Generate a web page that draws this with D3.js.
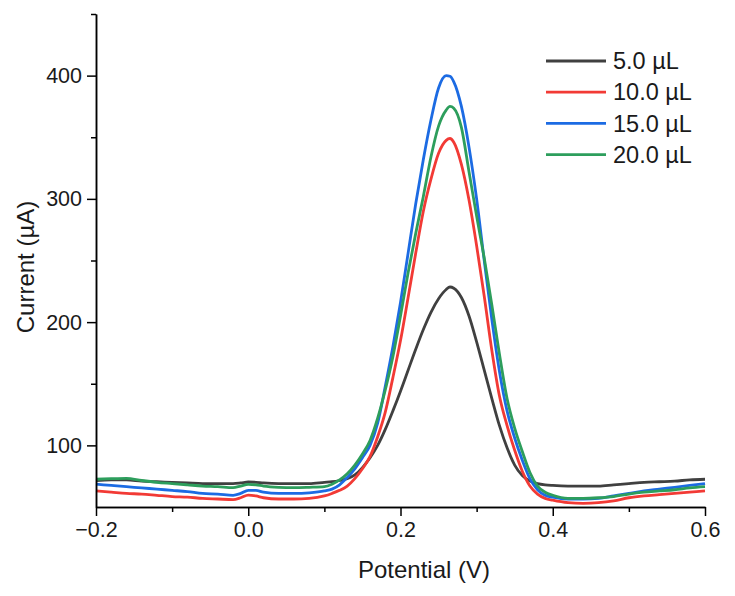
<html>
<head>
<meta charset="UTF-8">
<script src="https://d3js.org/d3.v7.min.js"></script>
<style>
  body { margin: 0; background: #fff; }
  text { font-family: Arial, "Liberation Sans", sans-serif; fill: #1a1a1a; }
  .axis .domain { stroke: #000; stroke-width: 1.5px; }
  .axis line { stroke: #000; stroke-width: 1.5px; }
</style>
</head>
<body>
<svg id="chart" width="735" height="596"></svg>
<script>
// potential (V) and current (uA)
const potential = [-0.20,-0.18,-0.16,-0.14,-0.12,-0.10,-0.08,-0.06,-0.04,-0.02,-0.01,0.00,0.01,
  0.02,0.04,0.06,0.08,0.10,0.11,0.12,0.13,0.14,0.15,0.16,0.17,0.18,0.19,0.20,0.21,0.22,0.23,0.24,
  0.25,0.26,0.265,0.27,0.28,0.29,0.30,0.31,0.32,0.33,0.34,0.35,0.36,0.37,0.38,0.39,0.40,
  0.42,0.44,0.46,0.48,0.50,0.52,0.54,0.56,0.58,0.60];

const current5 = [71.5,72,72,71,70.5,70,69.5,69,69,69,69.5,70.3,70,
  69.5,69,69,69,70,70.5,71.5,73,76,82,90,100,113,128,144,161,178,194,208,
  219,226.5,228.5,227.5,220,205,184,161,138,116,98,84,75.5,71,69,68,67.5,
  67,67,67,68,69,70,70.5,71,72,72.5];

const current10 = [63,62,61,60.5,59.5,58.5,58,57,56.5,56,57.5,59.7,59,
  57.5,56.5,56.5,57,59,61,63.5,67,73,81,91,107,127,155,185,220,256,290,316,
  337,347.5,349,346,328,299,262,221,177,140,116,96,79,67,60.5,57,55.5,
  53.5,53,53.5,55,57.5,59,60,61,62,63];

const current15 = [68.5,67.5,66.5,65.5,64.5,63.5,62.5,61,60.5,59.5,61,63.5,63.5,
  62,61,61,61.5,63,64.5,68,74,81,90,100,118,148,180,216,256,296,332,364,
  390,400,399.5,395,375,342,300,250,202,160,128,106,88,73,64,59.5,58,
  56.5,56.5,57,59,61,63,64.5,66,67.5,69];

const current20 = [72.5,73,73.3,71.5,70,69,68,67,66.5,65.7,67,68.4,68,
  67,66,65.7,66,66.5,68.5,72,77,84,93,104,122,145,172,205,240,272,302,334,
  359,372,375,373.5,358,322,286,252,214,174,138,114,95,78,67,62,59.5,
  57,57,57.5,58.5,60.5,62,63,64,65.5,66.5];

const seriesNames = ['5.0 \u00b5L', '10.0 \u00b5L', '15.0 \u00b5L', '20.0 \u00b5L'];
const seriesValues = [current5, current10, current15, current20];
const seriesColors = ['#404040', '#f23a35', '#1c6be3', '#2d9e5c'];

const xMajor = [-0.2, 0.0, 0.2, 0.4, 0.6];
const xMinor = [-0.1, 0.1, 0.3, 0.5];
const yMajor = [100, 200, 300, 400];
const yMinor = [150, 250, 350, 450];

const svg = d3.select('#chart');
const margin = {top: 14, right: 30, bottom: 89, left: 96};
const width = +svg.attr('width');
const height = +svg.attr('height');
const chartWidth = width - margin.left - margin.right;
const chartHeight = height - margin.top - margin.bottom;

const x = d3.scaleLinear().domain([-0.2, 0.6]).range([0, chartWidth]);
const y = d3.scaleLinear().domain([50, 450]).range([chartHeight, 0]);

const plot = svg.append('g').attr('transform', `translate(${margin.left},${margin.top})`);

// lines
const line = d3.line()
  .x((d, i) => x(potential[i]))
  .y(d => y(d))
  .curve(d3.curveMonotoneX);

plot.selectAll('path.series')
  .data(seriesValues)
  .join('path')
  .attr('class', 'series')
  .attr('fill', 'none')
  .attr('stroke', (d, i) => seriesColors[i])
  .attr('stroke-width', 2.8)
  .attr('stroke-linejoin', 'round')
  .attr('d', d => line(d));

// axes
const fmt = d3.format('.1f');
plot.append('g')
  .attr('class', 'axis')
  .attr('transform', `translate(0,${chartHeight})`)
  .call(d3.axisBottom(x).tickValues(xMinor).tickSize(5).tickSizeOuter(0).tickFormat(''));
const xAxis = plot.append('g')
  .attr('class', 'axis')
  .attr('transform', `translate(0,${chartHeight})`)
  .call(d3.axisBottom(x).tickValues(xMajor).tickSize(9).tickSizeOuter(0).tickPadding(6).tickFormat(fmt));
xAxis.selectAll('text').style('font-size', '21.5px');

plot.append('g')
  .attr('class', 'axis')
  .call(d3.axisLeft(y).tickValues(yMinor).tickSize(5).tickSizeOuter(0).tickFormat(''));
const yAxis = plot.append('g')
  .attr('class', 'axis')
  .call(d3.axisLeft(y).tickValues(yMajor).tickSize(9).tickSizeOuter(0).tickPadding(5));
yAxis.selectAll('text').style('font-size', '21.5px');

// axis titles
svg.append('text')
  .attr('x', 424)
  .attr('y', 578)
  .attr('text-anchor', 'middle')
  .style('font-size', '24px')
  .text('Potential (V)');

svg.append('text')
  .attr('transform', 'translate(34,267) rotate(-90)')
  .attr('text-anchor', 'middle')
  .style('font-size', '24px')
  .text('Current (\u00b5A)');

// legend
const legend = svg.append('g').attr('transform', 'translate(546,61)');
const rows = legend.selectAll('g')
  .data(seriesNames)
  .join('g')
  .attr('transform', (d, i) => `translate(0,${i * 31.2})`);
rows.append('line')
  .attr('x1', 0).attr('x2', 60)
  .attr('stroke', (d, i) => seriesColors[i])
  .attr('stroke-width', 2.8);
rows.append('text')
  .attr('x', 67)
  .attr('dy', '0.35em')
  .style('font-size', '23.5px')
  .text(d => d);
</script>
</body>
</html>
